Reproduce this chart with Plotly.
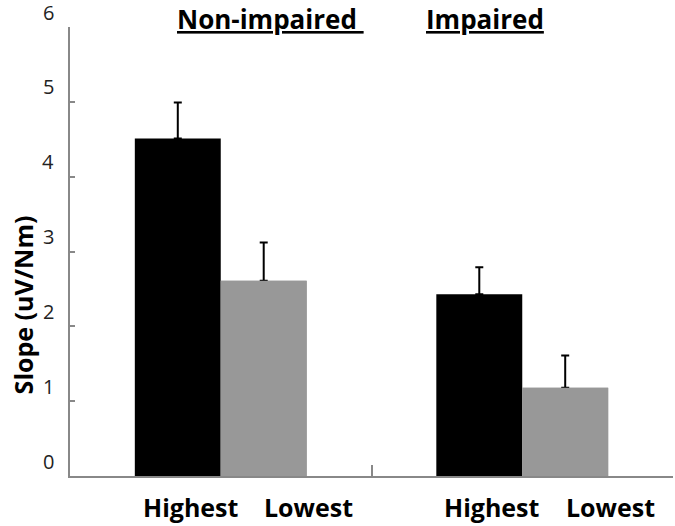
import plotly.graph_objects as go

groups = ["Non-impaired", "Impaired"]
series_names = ["Highest", "Lowest"]
highest = [4.51, 2.43]
lowest = [2.61, 1.18]
highest_err = [0.48, 0.36]
lowest_err = [0.51, 0.43]
yticks = [0, 1, 2, 3, 4, 5, 6]

BLACK = "#000000"
GRAY = "#989898"
FONT = "Open Sans"

x_idx = list(range(len(groups)))
fig = go.Figure()
fig.add_trace(go.Bar(
    x=x_idx, y=highest, name="Highest", offsetgroup="h",
    marker=dict(color=BLACK, line=dict(width=0)),
    error_y=dict(type="data", array=highest_err, arrayminus=[0] * len(groups), symmetric=False,
                 color=BLACK, thickness=2, width=4),
))
fig.add_trace(go.Bar(
    x=x_idx, y=lowest, name="Lowest", offsetgroup="l",
    marker=dict(color=GRAY, line=dict(width=0)),
    error_y=dict(type="data", array=lowest_err, arrayminus=[0] * len(groups), symmetric=False,
                 color=BLACK, thickness=2, width=4),
))
# same bars again on top, to hide the lower cap of the error bars
fig.add_trace(go.Bar(
    x=x_idx, y=lowest, name="Lowest", offsetgroup="l", hoverinfo="skip",
    marker=dict(color=GRAY, line=dict(width=0)),
))

annotations = []
# group titles (underlined)
title_shift = [50, -37]
for i, g in enumerate(groups):
    txt = "<u>" + g + " </u>" if i == 0 else "<u>" + g + "</u>"
    annotations.append(dict(x=i, y=1.0, xref="x", yref="paper", yshift=8,
                            text="<b>" + txt + "</b>", showarrow=False,
                            xshift=title_shift[i], xanchor="center", yanchor="middle",
                            font=dict(family=FONT, size=26, color="#000")))
# bar labels under axis
for i in range(len(groups)):
    for j, s in enumerate(series_names):
        annotations.append(dict(x=i, y=0, xref="x", yref="paper", yshift=-31,
                                xshift=[-30, 88][j], text="<b>" + s + "</b>",
                                showarrow=False, xanchor="center", yanchor="middle",
                                font=dict(family=FONT, size=25, color="#000")))
# y tick labels (drawn slightly above their ticks, as in the original)
for v in yticks:
    annotations.append(dict(x=0, y=v, xref="paper", yref="y", xshift=-14, yshift=15,
                            text=str(v), showarrow=False, xanchor="right", yanchor="middle",
                            font=dict(family=FONT, size=20, color="#222")))
# y title
annotations.append(dict(x=0, y=2.28, xref="paper", yref="y", xshift=-47,
                        text="<b>Slope (uV/Nm)</b>", textangle=-90, showarrow=False,
                        xanchor="center", yanchor="middle",
                        font=dict(family=FONT, size=25, color="#000")))

fig.update_layout(
    width=675, height=526,
    margin=dict(l=70, r=2, t=27, b=50, autoexpand=False),
    paper_bgcolor="white", plot_bgcolor="white",
    showlegend=False,
    barmode="group", bargap=0.43, bargroupgap=0,
    annotations=annotations,
    xaxis=dict(type="linear", range=[-0.5, 1.5], tickvals=[-0.5, 0.5, 1.5],
               showticklabels=False, ticks="inside", ticklen=11, tickwidth=1.5,
               tickcolor="#888", showline=True, linecolor="#888", linewidth=2,
               showgrid=False, zeroline=False),
    yaxis=dict(range=[0, 6], tickvals=yticks, ticks="inside", ticklen=5, tickwidth=1.5,
               tickcolor="#888", showline=True, linecolor="#888", linewidth=2,
               showgrid=False, zeroline=False, showticklabels=False),
)

fig.write_html("out.html", config={"displayModeBar": False},
               post_script="document.body.style.margin='0px';")
